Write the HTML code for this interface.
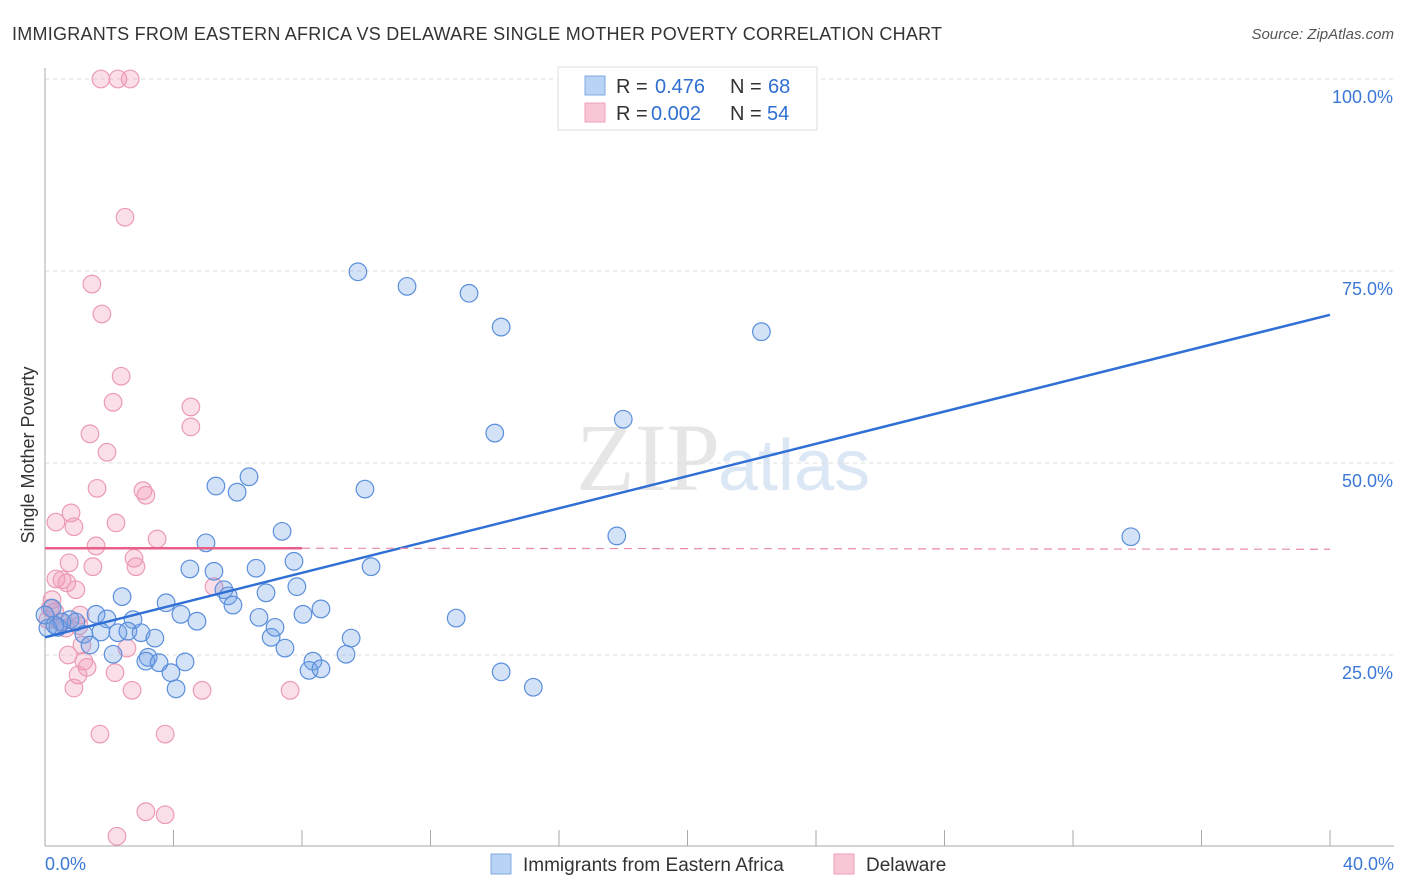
<!DOCTYPE html>
<html><head><meta charset="utf-8"><style>
body{margin:0;background:#fff;font-family:"Liberation Sans",sans-serif;}
svg{display:block}
</style></head><body>
<svg id="chart" width="1406" height="892">
<text x="12" y="40" font-size="18" fill="#333" textLength="930">IMMIGRANTS FROM EASTERN AFRICA VS DELAWARE SINGLE MOTHER POVERTY CORRELATION CHART</text>
<text x="1394" y="39" font-size="15" fill="#555" font-style="italic" text-anchor="end">Source: ZipAtlas.com</text>
<text x="720" y="490" font-size="96" fill="#e6e6e6" text-anchor="end" font-family="Liberation Serif">ZIP</text>
<text x="718" y="490" font-size="72" fill="#dbe7f5">atlas</text>
<g id="grid"></g><g id="axes"></g><g id="pts"></g><g id="trend"></g>
<text x="34" y="455" font-size="18" fill="#333" text-anchor="middle" transform="rotate(-90 34 455)">Single Mother Poverty</text>
<g>
<rect x="558" y="67" width="259" height="63" fill="#fff" stroke="#ddd"/>
<rect x="585" y="76" width="20" height="19" fill="#b8d3f5" stroke="#7fa9e0"/>
<rect x="585" y="103" width="20" height="19" fill="#f9c6d6" stroke="#eea0b8"/>
<text x="616" y="93" font-size="20" fill="#333">R =</text>
<text x="655" y="93" font-size="20" fill="#2f6fd0">0.476</text>
<text x="730" y="93" font-size="20" fill="#333">N =</text>
<text x="768" y="93" font-size="20" fill="#2f6fd0">68</text>
<text x="616" y="120" font-size="20" fill="#333">R =</text>
<text x="651" y="120" font-size="20" fill="#2f6fd0">0.002</text>
<text x="730" y="120" font-size="20" fill="#333">N =</text>
<text x="767" y="120" font-size="20" fill="#2f6fd0">54</text>
</g>
<g>
<rect x="491" y="854" width="20" height="20" fill="#b8d3f5" stroke="#7fa9e0"/>
<text x="523" y="871" font-size="19" fill="#333">Immigrants from Eastern Africa</text>
<rect x="834" y="854" width="20" height="20" fill="#f9c6d6" stroke="#eea0b8"/>
<text x="866" y="871" font-size="19" fill="#333">Delaware</text>
</g>
</svg>
<script>
const yTicks=[25,50,75,100];
const yTickLabels=["25.0%","50.0%","75.0%","100.0%"];
const xTicks=[0,4,8,12,16,20,24,28,32,36,40];
const blueX=[9.74,11.27,13.2,14.2,22.3,18.0,14.0,5.32,5.98,6.35,9.96,17.8,33.8,7.38,5.01,7.75,4.51,5.26,6.57,10.15,5.57,5.70,7.84,6.88,5.85,2.40,3.77,4.23,4.73,6.66,8.03,8.59,12.8,1.59,1.93,2.74,0.22,0.78,0.40,0.96,1.21,1.74,2.27,2.58,2.99,3.42,7.04,7.16,9.53,1.40,7.47,2.12,3.21,3.14,3.55,4.36,3.92,8.34,8.22,8.59,9.37,4.08,14.2,15.2,0.09,0.53,0.0,0.31];
const blueY=[74.9,73.0,72.1,67.7,67.1,55.7,53.9,47.0,46.2,48.2,46.6,40.5,40.4,41.1,39.6,37.2,36.2,35.9,36.3,36.5,33.5,32.7,33.9,33.1,31.5,32.6,31.8,30.3,29.4,29.9,30.3,31.0,29.8,30.3,29.7,29.6,31.1,29.6,28.6,29.3,27.7,28.0,27.9,28.1,27.9,27.2,27.3,28.6,27.2,26.3,25.9,25.1,24.7,24.2,24.0,24.1,22.7,24.2,23.0,23.2,25.1,20.6,22.8,20.8,28.5,29.3,30.2,28.9];
const pinkX=[1.74,2.27,2.65,2.49,1.46,1.77,2.37,2.12,4.54,4.54,1.40,1.93,1.62,3.05,3.14,0.81,0.34,0.90,2.21,3.49,1.59,2.77,2.83,0.75,1.49,0.34,0.53,0.68,0.96,5.26,0.16,0.31,1.09,0.09,1.06,1.15,2.55,0.72,1.21,1.31,1.03,2.18,0.90,2.71,4.89,7.63,1.71,3.74,3.14,3.74,2.24,0.22,0.47,0.65];
const pinkY=[100,100,100,82.0,73.3,69.4,61.3,57.9,57.3,54.7,53.8,51.4,46.7,46.4,45.8,43.5,42.3,41.7,42.2,40.1,39.2,37.6,36.5,37.0,36.5,34.9,34.8,34.4,33.5,33.9,31.1,30.6,30.2,29.6,28.8,26.3,25.9,25.0,24.2,23.4,22.4,22.7,20.7,20.4,20.4,20.4,14.7,14.7,4.6,4.2,1.4,32.2,29.3,28.5];
const blueTrend=[27.3,69.3];
const pinkTrend=[38.9,38.9];
const pinkSolidEnd=8;
const X=v=>45+v*1285/40, Y=v=>847-v*7.68;
const NS="http://www.w3.org/2000/svg";
function mk(parent,tag,attrs){const e=document.createElementNS(NS,tag);for(const k in attrs)e.setAttribute(k,attrs[k]);document.getElementById(parent).appendChild(e);return e;}
yTicks.forEach((t,i)=>{
 const l=mk('grid','line',{x1:45,x2:1394,y1:Y(t),y2:Y(t),stroke:'#ddd','stroke-dasharray':'4 4'});
 
 
 const tx=mk('grid','text',{x:1393,y:Y(t)+24,'font-size':18,fill:'#3b78d6','text-anchor':'end'});
 tx.textContent=yTickLabels[i];
 
 
});
const ax=mk('axes','line',{x1:45,x2:45,y1:68,y2:846,stroke:'#aaa'});


const bx=mk('axes','line',{x1:45,x2:1394,y1:846,y2:846,stroke:'#aaa'});


xTicks.forEach(t=>{
 const l=mk('axes','line',{x1:X(t),x2:X(t),y1:830,y2:846,stroke:'#aaa'});
 
 
});
const xl0=mk('axes','text',{x:45,y:870,'font-size':18,fill:'#3b78d6'});xl0.textContent=xTicks[0].toFixed(1)+'%';


const xl1=mk('axes','text',{x:1394,y:870,'font-size':18,fill:'#3b78d6','text-anchor':'end'});xl1.textContent=xTicks[xTicks.length-1].toFixed(1)+'%';


pinkX.forEach((v,i)=>{
 const c=mk('pts','circle',{cx:X(v),cy:Y(pinkY[i]),r:8.8,fill:'rgba(242,150,180,0.3)',stroke:'#ec9bb4','stroke-width':1.2});
 
 
});
blueX.forEach((v,i)=>{
 const c=mk('pts','circle',{cx:X(v),cy:Y(blueY[i]),r:8.8,fill:'rgba(110,160,230,0.3)',stroke:'#5b8fdc','stroke-width':1.2});
 
 
});
const bt=mk('trend','line',{x1:X(0),y1:Y(blueTrend[0]),x2:X(40),y2:Y(blueTrend[1]),stroke:'#2f6fd6','stroke-width':2.5});


const ps=mk('trend','line',{x1:X(0),y1:Y(pinkTrend[0]),x2:X(pinkSolidEnd),y2:Y(pinkTrend[0]),stroke:'#e8608a','stroke-width':2.5});


const pd=mk('trend','line',{x1:X(pinkSolidEnd),y1:Y(pinkTrend[0]),x2:X(40),y2:Y(pinkTrend[1])+1,stroke:'#e98aa8','stroke-width':1.2,'stroke-dasharray':'8 6'});


</script>
</body></html>
